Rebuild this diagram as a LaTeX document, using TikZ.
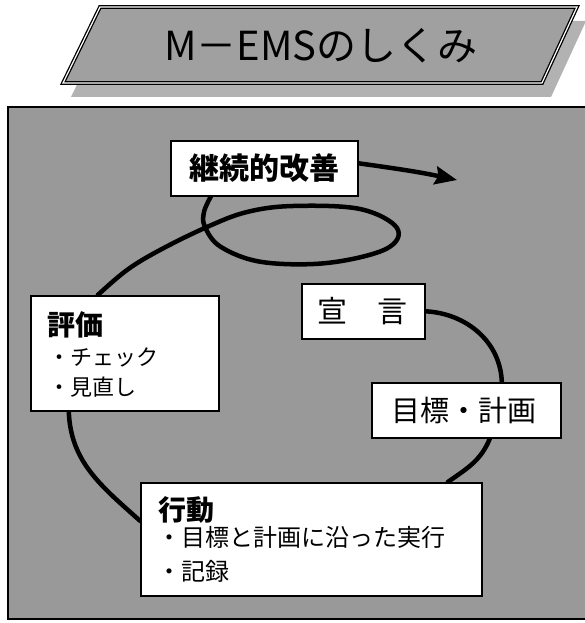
\documentclass[tikz,border=0pt]{standalone}
\usepackage{fontspec}
\newfontfamily\jp{Noto Sans CJK JP}
\usetikzlibrary{arrows.meta,calc}
\pgfdeclarelayer{background}
\pgfdeclarelayer{paper}
\pgfsetlayers{paper,background,main}
\definecolor{bggray}{HTML}{999999}
\definecolor{bannergray}{HTML}{A0A0A0}
\definecolor{shadowgray}{HTML}{B2B2B2}
\begin{document}
\begin{tikzpicture}[x=1pt,y=-1pt,
  box/.style={draw=black, line width=1.6pt, fill=white, inner sep=0pt, anchor=north west},
  cycleline/.style={line width=4.5pt, line cap=round},
  boxtext/.style={font=\jp\fontsize{30}{34}\selectfont, inner sep=0pt},
  headtext/.style={font=\jp\bfseries\fontsize{28}{32}\selectfont, inner sep=0pt, anchor=west},
  itemtext/.style={font=\jp\fontsize{22}{26}\selectfont, inner sep=0pt, anchor=west},
  itemtextb/.style={font=\jp\fontsize{24}{28}\selectfont, inner sep=0pt, anchor=west}]
\useasboundingbox (0,0) rectangle (584,623);
\begin{pgfonlayer}{paper}
\fill[white] (0,0) rectangle (584,623);
% frame with grey background
\draw[fill=bggray, line width=2pt] (8,107) rectangle (592,619);
% title banner
\fill[shadowgray] (108,21) -- (586,21) -- (551,97) -- (71,97) -- cycle;
\draw[fill=bannergray, draw=black, line width=1.3pt, double=white, double distance=1.2pt]
  (100,7) -- (577,7) -- (542,83) -- (63,83) -- cycle;
\end{pgfonlayer}
\node[font=\jp\fontsize{40}{44}\selectfont, inner sep=0pt] (title) at (321,46) {M－EMSのしくみ};

% boxes
\node[box, minimum width=187pt, minimum height=55pt] (kaizen) at (170,140) {};
\node[box, minimum width=188pt, minimum height=115pt] (eval) at (30,295) {};
\node[box, minimum width=123pt, minimum height=55pt] (sengen) at (301,283) {};
\node[box, minimum width=189pt, minimum height=55pt] (mokuhyo) at (371,382) {};
\node[box, minimum width=341pt, minimum height=113pt] (action) at (140,482) {};

% connector anchor points
\coordinate (e1) at ([xshift=-27pt]eval.north);
\coordinate (e2) at ([xshift=-56pt]eval.south);
\coordinate (k1) at ([xshift=-53.5pt]kaizen.south);
\coordinate (k2) at ([yshift=5pt]kaizen.east);
\coordinate (arrowtip) at (457,180);
\coordinate (m1) at ([xshift=35.5pt]mokuhyo.north);
\coordinate (m2) at ([xshift=23.5pt]mokuhyo.south);
\coordinate (a1) at ([xshift=136.5pt]action.north);
\coordinate (a2) at ([yshift=18.5pt]action.west);

% connectors, drawn below the boxes
\begin{pgfonlayer}{background}
\draw[cycleline] plot[smooth, tension=0.6] coordinates {(e1) (127,270) (160,250) (207,227) (247,212) (293,206) (360,209) (397,228) (386,249) (327,263) (262,262) (221,247) (205,227) (204,212) (k1)};
\draw[cycleline, line cap=butt, -{Stealth[length=22pt,width=18pt,inset=3pt]}] (k2) to[out=-8, in=168] (arrowtip);
\draw[cycleline] (sengen.east) to[out=-3, in=92] (m1);
\draw[cycleline] (m2) to[out=-112, in=35] (a1);
\draw[cycleline] (a2) to[out=138, in=-88] (e2);
\end{pgfonlayer}

% texts
\node[boxtext, font=\jp\bfseries\fontsize{30}{34}\selectfont] (kaizenT) at (kaizen.center) {継続的改善};
\node[boxtext] (sengenT) at ([xshift=-1pt]sengen.center) {宣　言};
\node[boxtext, font=\jp\fontsize{29}{33}\selectfont] (mokuhyoT) at ([xshift=-2pt]mokuhyo.center) {目標・計画};
\node[headtext] (evalT) at (47,325) {評価};
\node[itemtext] (evalA) at (48,357) {・チェック};
\node[itemtext] (evalB) at (48,387) {・見直し};
\node[headtext] (actionT) at (158,510) {行動};
\node[itemtextb] (actionA) at (157,537) {・目標と計画に沿った実行};
\node[itemtextb] (actionB) at (157,571) {・記録};
\end{tikzpicture}
\end{document}
